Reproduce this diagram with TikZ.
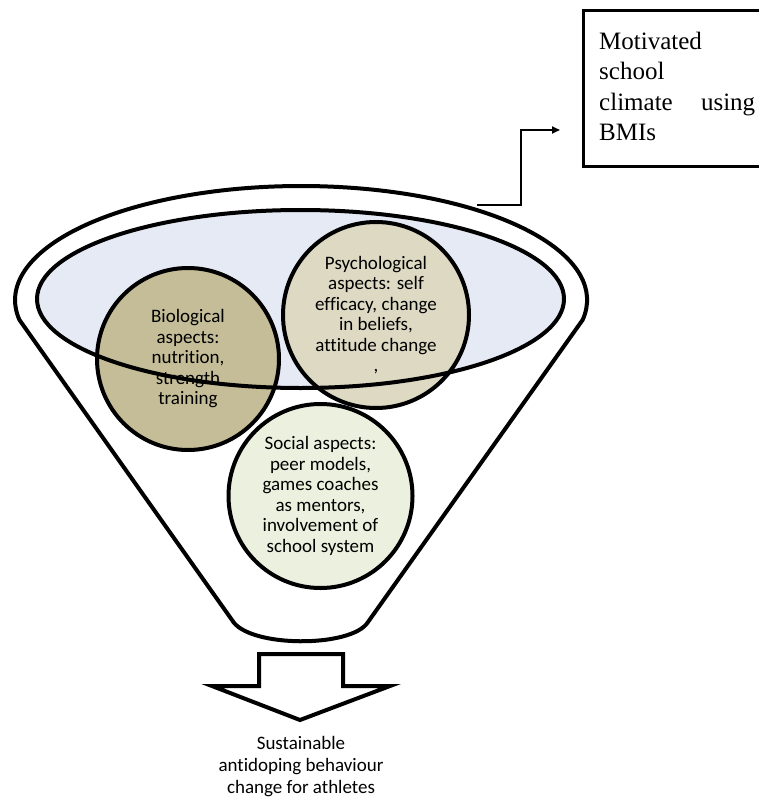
\documentclass[tikz,border=0pt]{standalone}
\usepackage{fontspec}
\setmainfont{Carlito}[Ligatures=NoCommon]
\newfontfamily\boxfont{Liberation Serif}
\usetikzlibrary{arrows.meta}
\definecolor{ellfill}{HTML}{E6EAF4}
\definecolor{biofill}{HTML}{C4BD97}
\definecolor{psyfill}{HTML}{DDD9C3}
\definecolor{socfill}{HTML}{EBF1DE}
\begin{document}
\begin{tikzpicture}[x=1pt,y=-1pt,
  heavy/.style={line width=4pt, line join=miter},
  aspect/.style={circle, draw, line width=4pt, inner sep=0pt, align=center,
    font=\fontsize{19}{20.5}\selectfont},
  conn/.style={line width=2pt, -{Triangle[length=8pt,width=7pt]}}]
\useasboundingbox (0,0) rectangle (759,802);
\clip (0,0) rectangle (759,802);
% funnel
\draw[heavy] (582.7,319.8) arc[start angle=10, end angle=-190, x radius=286, y radius=114]
  -- (232,620) .. controls (248,648) and (352,648) .. (368,622) -- cycle;
% block arrow
\draw[heavy, fill=white] (259,654) -- (343,654) -- (343,686) -- (390,686) -- (300,720)
  -- (212,686) -- (259,686) -- cycle;
% inner ellipse fill
\fill[ellfill] (300.5,299) ellipse[x radius=263.5, y radius=89];
% aspects
\node[aspect, fill=biofill, minimum size=182pt] (bio) at (188,359)
  {Biological\\aspects:\\nutrition,\\strength\\training};
\node[aspect, fill=psyfill, minimum size=186pt] (psy) at (376,315)
  {Psychological\\aspects: self\\efficacy, change\\in beliefs,\\attitude change\\,};
\node[aspect, fill=socfill, minimum size=184pt] (soc) at (320.5,496)
  {Social aspects:\\peer models,\\games coaches\\as mentors,\\involvement of\\school system};
% inner ellipse outline
\draw[heavy] (300.5,299) ellipse[x radius=263.5, y radius=89];
% box
\node[draw, line width=3pt, minimum width=230pt, minimum height=156pt, anchor=north west,
  inner sep=0pt] (box) at (582,9) {};
\node[anchor=north west, inner sep=0pt, align=left,
  font=\boxfont\fontsize{25}{30.3}\selectfont] (boxtext) at (599,31.9)
  {Motivated\\school\\\makebox[156pt][s]{climate using}\\BMIs};
% connector
\coordinate (cstart) at (477,205);
\coordinate (tip) at (560,130);
\draw[conn] (cstart) -- ++(44,0) |- (tip);
% outcome
\node[anchor=north, inner sep=0pt, align=center, font=\fontsize{19}{22}\selectfont]
  (outcome) at (301,736)
  {Sustainable\\antidoping behaviour\\change for athletes};
\end{tikzpicture}
\end{document}
